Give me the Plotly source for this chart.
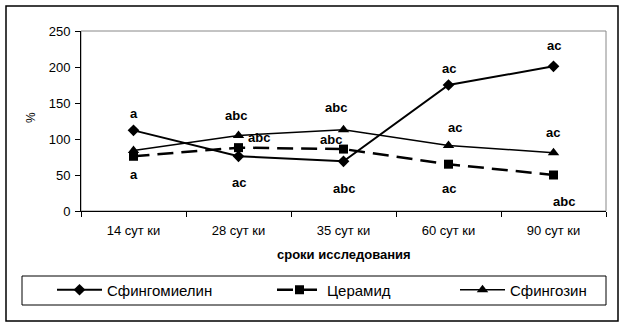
import plotly.graph_objects as go

categories = ["14 сут ки", "28 сут ки", "35 сут ки", "60 сут ки", "90 сут ки"]
sphingomyelin = [112, 76, 69, 175, 201]
ceramide = [76, 88, 86, 65, 50]
sphingosine = [84, 105, 113, 91, 81]

sm_labels = ["a", "ac", "abc", "ac", "ac"]
cer_labels = ["a", "abc", "abc", "ac", "abc"]
sph_labels = ["", "abc", "abc", "ac", "ac"]

W, H = 625, 327
L, R, T, B = 81, 19, 31, 116
PW, PH = W - L - R, H - T - B

FONT = "Liberation Sans, Arial"

fig = go.Figure()
fig.add_trace(go.Scatter(x=categories, y=sphingomyelin, name="Сфингомиелин", mode="lines+markers",
                         line=dict(color="black", width=2),
                         marker=dict(symbol="diamond", size=9, color="black"), legend="legend"))
fig.add_trace(go.Scatter(x=categories, y=ceramide, name="Церамид", mode="lines+markers",
                         line=dict(color="black", width=2.5, dash="16px,8px"),
                         marker=dict(symbol="square", size=9, color="black"), legend="legend2"))
fig.add_trace(go.Scatter(x=categories, y=sphingosine, name="Сфингозин", mode="lines+markers",
                         line=dict(color="black", width=1.5),
                         marker=dict(symbol="triangle-up", size=10, color="black"), legend="legend3"))

afont = dict(family=FONT, size=13, color="black")
sm_shift = [(0, 17), (0, -26), (0, -27), (0, 17), (0, 21)]
for c, v, t, (dx, dy) in zip(categories, sphingomyelin, sm_labels, sm_shift):
    fig.add_annotation(x=c, y=v, text="<b>%s</b>" % t, showarrow=False, xshift=dx, yshift=dy, font=afont)
cer_shift = [(0, -18), (20, 10), (-13, 10), (0, -24), (10, -26)]
for c, v, t, (dx, dy) in zip(categories, ceramide, cer_labels, cer_shift):
    fig.add_annotation(x=c, y=v, text="<b>%s</b>" % t, showarrow=False, xshift=dx, yshift=dy, font=afont)
sph_shift = [(0, 0), (-3, 20), (-8, 22), (6, 18), (-1, 20)]
for c, v, t, (dx, dy) in zip(categories, sphingosine, sph_labels, sph_shift):
    if t:
        fig.add_annotation(x=c, y=v, text="<b>%s</b>" % t, showarrow=False, xshift=dx, yshift=dy, font=afont)


def px(x):
    return (x - L) / PW


def py(y):
    return (H - B - y) / PH


fig.add_annotation(xref="paper", yref="paper", x=px(31), y=py(118), text="%", xanchor="center", yanchor="middle",
                   textangle=-90, showarrow=False, font=dict(family=FONT, size=12, color="black"))
fig.add_annotation(xref="paper", yref="paper", x=px(344), y=py(254), text="<b>сроки исследования</b>",
                   xanchor="center", yanchor="middle",
                   showarrow=False, font=dict(family=FONT, size=13, color="black"))

fig.add_shape(type="rect", xref="paper", yref="paper", x0=px(6), x1=px(618), y0=py(6), y1=py(321),
              line=dict(color="black", width=1.5))
fig.add_shape(type="rect", xref="paper", yref="paper", x0=px(22), x1=px(606), y0=py(276), y1=py(305),
              line=dict(color="black", width=1))
fig.add_shape(type="rect", xref="paper", yref="paper", x0=0, x1=1, y0=0, y1=1,
              line=dict(color="#888888", width=1), layer="below")

lfont = dict(family=FONT, size=15, color="black")
common = dict(orientation="h", xanchor="left", yanchor="middle", font=lfont, bgcolor="rgba(0,0,0,0)",
              borderwidth=0, itemwidth=45)
tfont = dict(family=FONT, size=13, color="black")
fig.update_layout(
    width=W, height=H,
    margin=dict(l=L, r=R, t=T, b=B),
    paper_bgcolor="white", plot_bgcolor="white",
    showlegend=True,
    legend=dict(x=px(52), y=py(290), **common),
    legend2=dict(x=px(272), y=py(290), **common),
    legend3=dict(x=px(455), y=py(290), **common),
    xaxis=dict(type="category", tickson="boundaries", ticks="outside", ticklen=5, tickcolor="black",
               showline=True, linecolor="black", linewidth=1, showgrid=False, range=[-0.5, 4.5],
               tickfont=tfont, ticklabelstandoff=7),
    yaxis=dict(range=[0, 250], dtick=50, ticks="outside", ticklen=5, tickcolor="black",
               showline=True, linecolor="black", linewidth=1, showgrid=False, zeroline=False,
               tickfont=tfont, ticklabelstandoff=2),
)

fig.write_html("out.html")
